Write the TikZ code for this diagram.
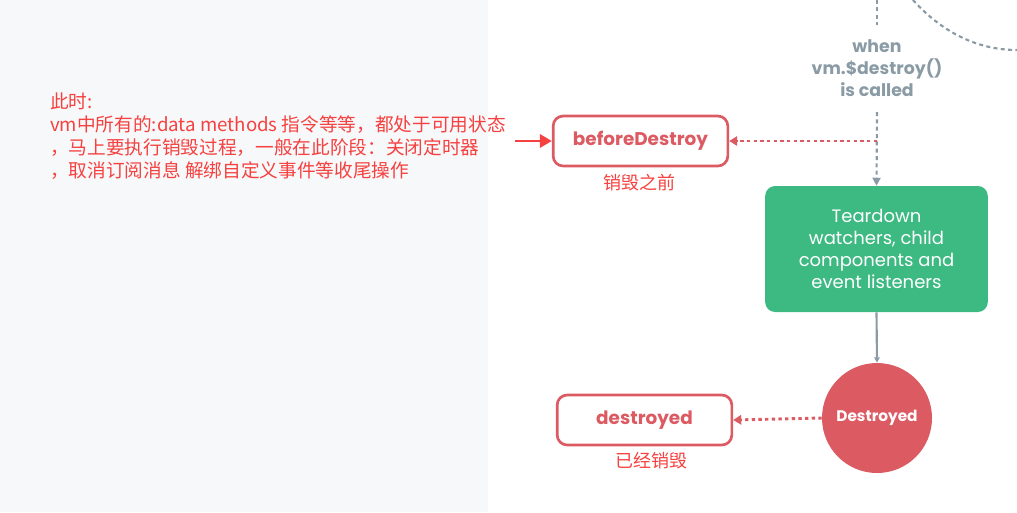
\documentclass[tikz,border=0pt]{standalone}
\usepackage{fontspec}
\setmainfont{Poppins}
\newfontfamily\cjk{Noto Sans CJK SC}
\usetikzlibrary{arrows.meta}

\definecolor{hookred}{HTML}{DC5A62}
\definecolor{notered}{HTML}{F5413F}
\definecolor{flowgray}{HTML}{8A9BA6}
\definecolor{vuegreen}{HTML}{3DB982}
\definecolor{panelgray}{HTML}{F7F8FA}

\tikzset{
	hook/.style={draw=hookred, line width=2pt, rounded corners=7.5pt, fill=white,
		minimum width=131pt, minimum height=37.5pt, text=hookred,
		font=\fontsize{13.8}{15}\selectfont\bfseries},
	note/.style={text=notered, font=\cjk\fontsize{13.5}{17.25}\selectfont},
	redflow/.style={hookred, line width=2.2pt, dash pattern=on 2.5pt off 2.5pt, -{Triangle[length=6pt,width=7pt]}},
	grayflow/.style={flowgray, line width=1.6pt, dash pattern=on 3pt off 2.5pt}
}

\begin{document}
\begin{tikzpicture}[x=0.75pt, y=-0.75pt]
	\useasboundingbox (0,0) rectangle (1017,512);
	\fill[panelgray] (0,0) rectangle (488,512);
	
	% left remark
	\node[note, font=\cjk\fontsize{14}{17.25}\selectfont, anchor=north west, align=left, inner sep=0pt] (remark) at (50,92.5) {此时:\\vm中所有的:data methods 指令等等，都处于可用状态\\，马上要执行销毁过程，一般在此阶段：关闭定时器\\，取消订阅消息 解绑自定义事件等收尾操作};
	
	% hooks
	\node[hook] (beforeDestroy) at (640.5,141) {beforeDestroy};
	\node[note] (lblBefore) at (639,183) {销毁之前};
	\node[hook] (destroyed) at (644.5,420) {destroyed};
	\node[note] (lblDestroyed) at (651,461) {已经销毁};
	
	% main flow
	\node[text=flowgray, align=center, font=\fontsize{13}{16.5}\selectfont\bfseries] (when) at (877,68) {when\\vm.\$destroy()\\is called};
	\node[fill=vuegreen, rounded corners=7.5pt, minimum width=167pt, minimum height=94.5pt, text=white, align=center,
		font=\fontsize{13.5}{16.5}\selectfont] (Teardown) at (876.5,249) {Teardown\\watchers, child\\components and\\event listeners};
	\node[circle, fill=hookred, minimum size=82.5pt, inner sep=0pt, text=white, font=\fontsize{11.5}{14}\selectfont\bfseries] (Destroyed) at (877,418) {Destroyed};
	
	\coordinate (top) at (877,0);
	\coordinate (branch) at (877,141);
	\draw[grayflow] (top) -- (877,25);
	\draw[grayflow, -{Triangle[length=6pt,width=6pt]}] (877,112) -- (Teardown.north);
	\draw[grayflow] (913,0) .. controls (940,30) and (975,50) .. (1017,50);
	\draw[flowgray, line width=1.6pt, -{Triangle[length=4pt,width=4pt]}] (Teardown.south) -- (Destroyed.north);
	
	\draw[redflow] (branch) -- (beforeDestroy.east);
	\draw[redflow] (Destroyed.west) -- (destroyed.east);
	\draw[notered, line width=1.8pt, -{Triangle[length=9pt,width=10pt]}] (515,141) -- (beforeDestroy.west);
\end{tikzpicture}
\end{document}
